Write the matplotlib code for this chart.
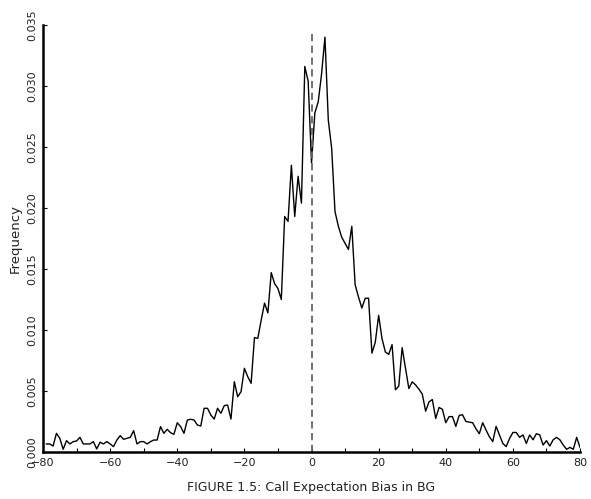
import matplotlib
matplotlib.use("Agg")
import matplotlib.pyplot as plt

# bias values -79..80, one frequency per integer
x_vals = list(range(-79, 81))

freq_left = [
    0.00066, 0.00066, 0.00049, 0.00153, 0.00112, 0.00022, 0.00093, 0.00066, 0.00085, 0.00090,  # -79..-70
    0.00120, 0.00066, 0.00066, 0.00066, 0.00085, 0.00025, 0.00080, 0.00066, 0.00085, 0.00066,  # -69..-60
    0.00044, 0.00098, 0.00134, 0.00104, 0.00112, 0.00120, 0.00175, 0.00066, 0.00085, 0.00085,  # -59..-50
    0.00066, 0.00085, 0.00098, 0.00098, 0.00208, 0.00153, 0.00186, 0.00158, 0.00145, 0.00240,  # -49..-40
    0.00208, 0.00153, 0.00262, 0.00268, 0.00262, 0.00221, 0.00213, 0.00358, 0.00358, 0.00303,  # -39..-30
    0.00270, 0.00358, 0.00317, 0.00380, 0.00385, 0.00270, 0.00576, 0.00453, 0.00494, 0.00686,  # -29..-20
    0.00617, 0.00563, 0.00937, 0.00932, 0.01080, 0.01220, 0.01140, 0.01470, 0.01380, 0.01340,  # -19..-10
    0.01250, 0.01930, 0.01890, 0.02350, 0.01930, 0.02260, 0.02040, 0.03160, 0.03040,           # -9..-1
]
freq_right = [
    0.02370, 0.02780, 0.02870, 0.03100, 0.03400, 0.02720, 0.02490, 0.01970, 0.01850, 0.01760,  # 0..9
    0.01710, 0.01660, 0.01850, 0.01370, 0.01270, 0.01180, 0.01260, 0.01260, 0.00810, 0.00900,  # 10..19
    0.01120, 0.00930, 0.00820, 0.00800, 0.00880, 0.00510, 0.00540, 0.00855, 0.00690, 0.00520,  # 20..29
    0.00575, 0.00550, 0.00515, 0.00475, 0.00335, 0.00410, 0.00430, 0.00275, 0.00365, 0.00350,  # 30..39
    0.00240, 0.00290, 0.00290, 0.00210, 0.00300, 0.00305, 0.00250, 0.00245, 0.00240, 0.00190,  # 40..49
    0.00150, 0.00240, 0.00180, 0.00125, 0.00085, 0.00210, 0.00140, 0.00070, 0.00044, 0.00110,  # 50..59
    0.00160, 0.00160, 0.00120, 0.00140, 0.00070, 0.00140, 0.00100, 0.00150, 0.00140, 0.00057,  # 60..69
    0.00093, 0.00049, 0.00100, 0.00120, 0.00100, 0.00057, 0.00022, 0.00038, 0.00022, 0.00120,  # 70..79
    0.00038,                                                                                   # 80
]
freq = freq_left + freq_right

x_ticks = list(range(-80, 81, 10))
x_labels = [str(t).replace("-", "\u2212") if t % 20 == 0 else "" for t in x_ticks]
y_ticks = [0.000, 0.005, 0.010, 0.015, 0.020, 0.025, 0.030, 0.035]
y_labels = ["%.3f" % v for v in y_ticks]

fig = plt.figure(figsize=(5.91, 4.99), dpi=100)
ax = fig.add_axes([0.0728, 0.0942, 0.9086, 0.8558])

ax.plot(x_vals, freq, color="black", lw=1.0)
ax.vlines(0, 0, 0.0346, colors="#666666", linestyles=(0, (4, 2.5)), lw=1.3)

ax.set_xlim(-80, 80)
ax.set_ylim(0, 0.035)

ax.spines["top"].set_visible(False)
ax.spines["right"].set_visible(False)
ax.spines["left"].set_linewidth(1.8)
ax.spines["bottom"].set_linewidth(1.8)

ax.set_xticks(x_ticks)
ax.set_xticklabels(x_labels, fontsize=8, color="#222222")
ax.set_yticks(y_ticks)
ax.set_yticklabels(y_labels, fontsize=8, rotation=90, va="center", color="#222222")
ax.tick_params(direction="in", length=3, width=0.8, pad=4)

ax.set_ylabel("Frequency", fontsize=9.5, labelpad=4, color="#222222")
ax.set_xlabel("FIGURE 1.5: Call Expectation Bias in BG", fontsize=9, labelpad=10, color="#222222")

fig.savefig("out.png", dpi=100)
